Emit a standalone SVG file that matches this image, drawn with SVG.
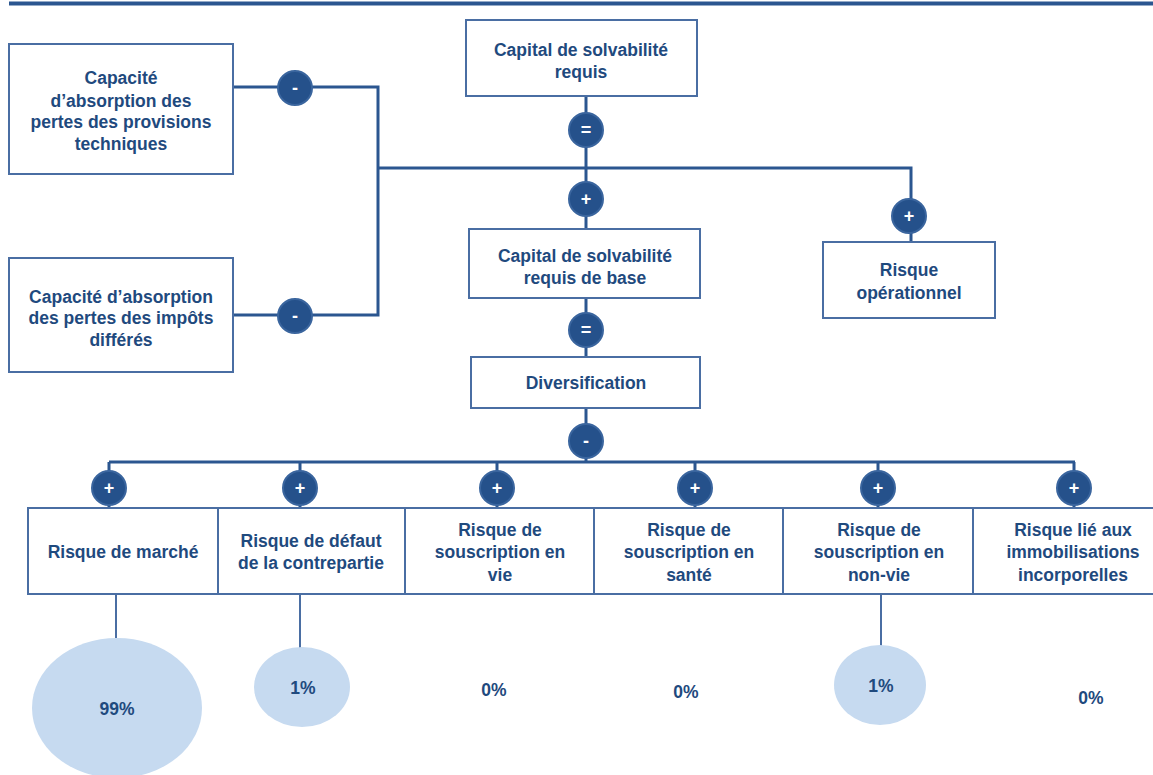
<svg xmlns="http://www.w3.org/2000/svg" width="1153" height="775" viewBox="0 0 1153 775">
<style>
.box{fill:#fff;stroke:#4A6EA3;stroke-width:2}
.ln{stroke:#2B5690;stroke-width:3;fill:none}
.thin{stroke:#4A6EA3;stroke-width:2;fill:none}
.op{fill:#25518B;stroke:#3A659E;stroke-width:2}
.opt{fill:#fff;font-family:"Liberation Sans",Arial,sans-serif;font-weight:bold;font-size:18px;text-anchor:middle}
.t{fill:#1F4A7E;font-family:"Liberation Sans",Arial,sans-serif;font-weight:bold;font-size:17.5px;text-anchor:middle}
.ell{fill:#C6DAF0}
</style>
<rect width="1153" height="775" fill="#fff"/>
<line x1="9" y1="3.5" x2="1153" y2="3.5" stroke="#2B5690" stroke-width="4"/>
<g id="connectors">
<path class="ln" d="M233 87 H378 V315 H233"/>
<path class="ln" d="M378 168 H911 V242"/>
<path class="ln" d="M586 96 V229"/>
<path class="ln" d="M586 298 V357"/>
<path class="ln" d="M586 408 V462"/>
<path class="ln" d="M109 462 H1075"/>
<path class="ln" d="M109 462 V508 M300 462 V508 M497 462 V508 M695 462 V508 M878 462 V508 M1074 462 V508"/>
<path class="thin" d="M116 594 V638 M300 594 V648 M881 594 V647"/>
</g>
<g id="op-minus-1"><circle class="op" cx="295" cy="88" r="17"/><text class="opt" x="295" y="94">-</text></g>
<g id="op-minus-2"><circle class="op" cx="295" cy="316" r="17"/><text class="opt" x="295" y="322">-</text></g>
<g id="op-eq-1"><circle class="op" cx="586" cy="130" r="17"/><text class="opt" x="586" y="136">=</text></g>
<g id="op-plus-1"><circle class="op" cx="586" cy="199" r="17"/><text class="opt" x="586" y="205">+</text></g>
<g id="op-plus-2"><circle class="op" cx="909" cy="216" r="17"/><text class="opt" x="909" y="222">+</text></g>
<g id="op-eq-2"><circle class="op" cx="586" cy="330" r="17"/><text class="opt" x="586" y="336">=</text></g>
<g id="op-minus-3"><circle class="op" cx="586" cy="441" r="17"/><text class="opt" x="586" y="447">-</text></g>
<g id="op-plus-r1"><circle class="op" cx="109" cy="488" r="17"/><text class="opt" x="109" y="494">+</text></g>
<g id="op-plus-r2"><circle class="op" cx="300" cy="488" r="17"/><text class="opt" x="300" y="494">+</text></g>
<g id="op-plus-r3"><circle class="op" cx="497" cy="488" r="17"/><text class="opt" x="497" y="494">+</text></g>
<g id="op-plus-r4"><circle class="op" cx="695" cy="488" r="17"/><text class="opt" x="695" y="494">+</text></g>
<g id="op-plus-r5"><circle class="op" cx="878" cy="488" r="17"/><text class="opt" x="878" y="494">+</text></g>
<g id="op-plus-r6"><circle class="op" cx="1074" cy="488" r="17"/><text class="opt" x="1074" y="494">+</text></g>
<g id="scr"><rect class="box" x="466" y="20" width="231" height="76"/><text class="t" x="581" y="56">Capital de solvabilité</text><text class="t" x="581" y="78">requis</text></g>
<g id="adj-tp"><rect class="box" x="9" y="44" width="224" height="130"/><text class="t" x="121" y="84">Capacité</text><text class="t" x="121" y="107">d’absorption des</text><text class="t" x="121" y="128">pertes des provisions</text><text class="t" x="121" y="150">techniques</text></g>
<g id="adj-dt"><rect class="box" x="9" y="258" width="224" height="114"/><text class="t" x="121" y="303">Capacité d’absorption</text><text class="t" x="121" y="324">des pertes des impôts</text><text class="t" x="121" y="346">différés</text></g>
<g id="bscr"><rect class="box" x="469" y="229" width="231" height="69"/><text class="t" x="585" y="262">Capital de solvabilité</text><text class="t" x="585" y="284">requis de base</text></g>
<g id="op-risk"><rect class="box" x="823" y="242" width="172" height="76"/><text class="t" x="909" y="276">Risque</text><text class="t" x="909" y="299">opérationnel</text></g>
<g id="diversification"><rect class="box" x="471" y="357" width="229" height="51"/><text class="t" x="586" y="389">Diversification</text></g>
<g id="market"><rect class="box" x="28" y="508" width="190" height="86"/><text class="t" x="123" y="558">Risque de marché</text></g>
<g id="default"><rect class="box" x="218" y="508" width="187" height="86"/><text class="t" x="311" y="547">Risque de défaut</text><text class="t" x="311" y="569">de la contrepartie</text></g>
<g id="life"><rect class="box" x="405" y="508" width="189" height="86"/><text class="t" x="500" y="536">Risque de</text><text class="t" x="500" y="558">souscription en</text><text class="t" x="500" y="581">vie</text></g>
<g id="health"><rect class="box" x="594" y="508" width="189" height="86"/><text class="t" x="689" y="536">Risque de</text><text class="t" x="689" y="558">souscription en</text><text class="t" x="689" y="581">santé</text></g>
<g id="nonlife"><rect class="box" x="783" y="508" width="190" height="86"/><text class="t" x="879" y="536">Risque de</text><text class="t" x="879" y="558">souscription en</text><text class="t" x="879" y="581">non-vie</text></g>
<g id="intangible"><rect class="box" x="973" y="508" width="182" height="86"/><text class="t" x="1073" y="536">Risque lié aux</text><text class="t" x="1073" y="558">immobilisations</text><text class="t" x="1073" y="581">incorporelles</text></g>
<g id="pct-market"><ellipse class="ell" cx="117" cy="708" rx="85" ry="70"/><text class="t" x="117" y="715">99%</text></g>
<g id="pct-default"><ellipse class="ell" cx="302" cy="687" rx="48" ry="40"/><text class="t" x="303" y="694">1%</text></g>
<g id="pct-life"><text class="t" x="494" y="696">0%</text></g>
<g id="pct-health"><text class="t" x="686" y="698">0%</text></g>
<g id="pct-nonlife"><ellipse class="ell" cx="880" cy="685" rx="46" ry="40"/><text class="t" x="881" y="692">1%</text></g>
<g id="pct-intangible"><text class="t" x="1091" y="704">0%</text></g>
</svg>
